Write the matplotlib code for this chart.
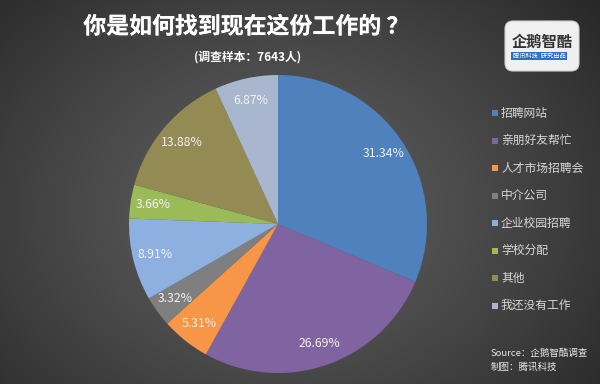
import numpy as np
import matplotlib
matplotlib.use('Agg')
import matplotlib.pyplot as plt
import matplotlib.patheffects as pe
from matplotlib.patches import FancyBboxPatch, Rectangle

plt.rcParams['font.family'] = ['Noto Sans CJK SC', 'DejaVu Sans']

# 数据
categories = ['招聘网站', '亲朋好友帮忙', '人才市场招聘会', '中介公司',
              '企业校园招聘', '学校分配', '其他', '我还没有工作']
shares = [31.34, 26.69, 5.31, 3.32, 8.91, 3.66, 13.88, 6.87]
pct_labels = ['31.34%', '26.69%', '5.31%', '3.32%', '8.91%', '3.66%', '13.88%', '6.87%']
colors = ['#4F81BD', '#8064A2', '#F79646', '#7F7F7F',
          '#8DB0E0', '#9BBB59', '#948A54', '#A8B7CE']
brand = '\u4f01\u9e45\u667a\u9177'  # 企鹅智酷

W, H = 600, 384
fig = plt.figure(figsize=(W / 100, H / 100), dpi=100)

# 背景渐变
bg = fig.add_axes([0, 0, 1, 1])
yy, xx = np.mgrid[0:H, 0:W]
d = np.sqrt(((xx - 280) / 330.0) ** 2 + ((yy - 210) / 260.0) ** 2)
v = np.clip(0.37 - 0.16 * d ** 1.3, 0.15, 1)
bg.imshow(np.dstack([v, v, v]), extent=[0, W, H, 0], aspect='auto', interpolation='bilinear')
bg.set_xlim(0, W)
bg.set_ylim(H, 0)
bg.axis('off')

# 饼图
cx, cy, r = 278, 224, 149
ax = fig.add_axes([(cx - r) / W, (H - cy - r) / H, 2 * r / W, 2 * r / H])
wedges, _ = ax.pie(shares, colors=colors, startangle=90, counterclock=False,
                   radius=1, wedgeprops=dict(linewidth=0))
ax.set_xlim(-1, 1)
ax.set_ylim(-1, 1)
ax.set_aspect('equal')
ax.axis('off')
for w, lab in zip(wedges, pct_labels):
    ang = np.deg2rad((w.theta1 + w.theta2) / 2)
    ax.text(0.85 * np.cos(ang), 0.85 * np.sin(ang), lab, ha='center', va='center',
            fontsize=8.8, color='#f2f2f2')

# 标题
title = bg.text(246, 27, '你是如何找到现在这份工作的 ？', ha='center', va='center',
                fontsize=16.5, fontweight='bold', color='white')
title.set_path_effects([pe.withSimplePatchShadow(offset=(1.5, -1.5), alpha=0.6), pe.Normal()])
bg.text(248, 57, '(调查样本：7643人)', ha='center', va='center',
        fontsize=8.5, fontweight='bold', color='white')

# 图例
for i, (c, name) in enumerate(zip(colors, categories)):
    y = 113 + i * 27.5
    bg.add_patch(Rectangle((492, y - 3), 6, 6, color=c, lw=0))
    bg.text(501, y, name, ha='left', va='center', fontsize=8.5, color='#d8d8d8')

# 来源
bg.text(491, 353, 'Source：' + brand + '调查', ha='left', va='center', fontsize=6.8,
        style='italic', color='#e8e8e8')
bg.text(491, 367, '制图：腾讯科技', ha='left', va='center', fontsize=6.8,
        style='italic', color='#e8e8e8')

# 标志
bg.add_patch(FancyBboxPatch((505, 21), 74, 50, boxstyle='round,pad=0,rounding_size=8',
                            fc='#f0f0f0', ec='#cfcfcf', lw=0.8))
bg.text(542, 42, brand, ha='center', va='center', fontsize=11,
        fontweight='bold', color='#333333')
bg.add_patch(Rectangle((511, 52), 56, 8, color='#2f6fc4', lw=0))
bg.text(539, 56, '腾讯科技  研究出品', ha='center', va='center', fontsize=4.5,
        color='white')

fig.savefig('out.png', dpi=100)
